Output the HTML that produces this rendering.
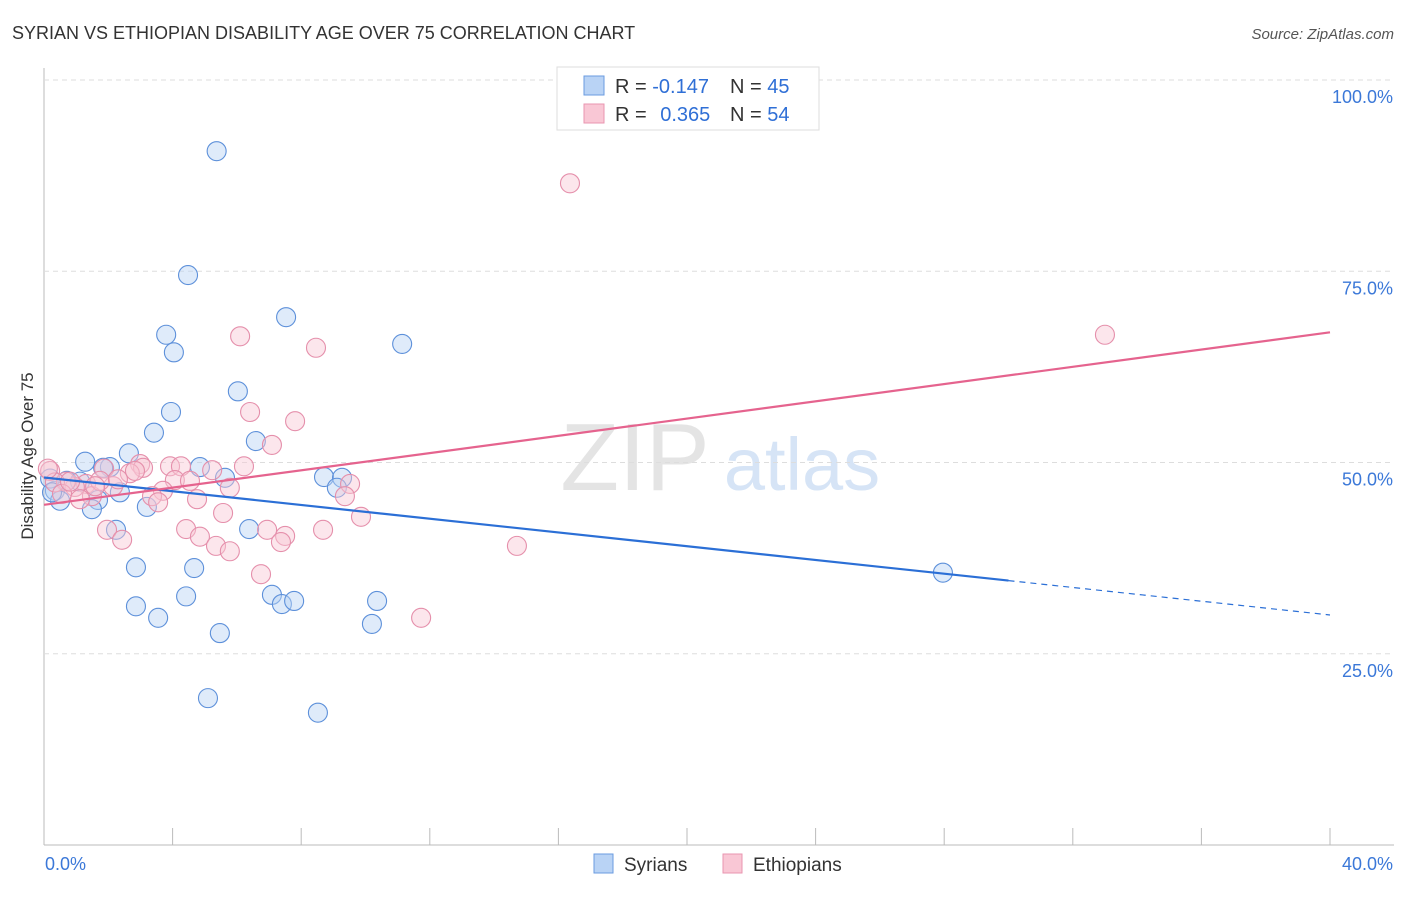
<!DOCTYPE html>
<html><head><meta charset="utf-8"><style>
body{margin:0;background:#fff;font-family:"Liberation Sans",sans-serif}
svg text{font-family:"Liberation Sans",sans-serif}
</style></head><body>
<svg id="c" width="1406" height="892">
<text x="12" y="39" font-size="18" fill="#333">SYRIAN VS ETHIOPIAN DISABILITY AGE OVER 75 CORRELATION CHART</text>
<text x="1394" y="39" font-size="15" fill="#555" font-style="italic" text-anchor="end">Source: ZipAtlas.com</text>
<text transform="translate(33,456) rotate(-90)" font-size="17" fill="#333" text-anchor="middle">Disability Age Over 75</text>
<g><text x="635" y="490" font-size="96" font-family="Liberation Serif" fill="#e4e4e4" text-anchor="middle">ZIP</text><text x="802" y="490" font-size="74" fill="#d6e4f6" text-anchor="middle">atlas</text></g>
<g id="grid"></g><g id="marks"></g>
<g>
<rect x="557" y="67" width="262" height="63" fill="#fff" stroke="#ddd"/>
<rect x="584" y="76" width="20" height="19" fill="#b9d3f5" stroke="#6a9be0"/>
<rect x="584" y="104" width="20" height="19" fill="#f9c7d5" stroke="#e996b0"/>
<text x="615" y="93" font-size="20" fill="#333">R = <tspan fill="#2f6fd6">-0.147</tspan></text>
<text x="730" y="93" font-size="20" fill="#333">N = <tspan fill="#2f6fd6">45</tspan></text>
<text x="615" y="121" font-size="20" fill="#333">R = <tspan fill="#2f6fd6" dx="8">0.365</tspan></text>
<text x="730" y="121" font-size="20" fill="#333">N = <tspan fill="#2f6fd6">54</tspan></text>
</g>
<g>
<rect x="594" y="854" width="19" height="19" fill="#b9d3f5" stroke="#6a9be0"/>
<text x="624" y="871" font-size="19" fill="#333">Syrians</text>
<rect x="723" y="854" width="19" height="19" fill="#f9c7d5" stroke="#e996b0"/>
<text x="753" y="871" font-size="19" fill="#333">Ethiopians</text>
</g>
</svg>
<script>
// values in percent [x, y]
const syrianX=[5.37,4.48,3.80,4.04,7.53,11.14,6.03,3.95,3.42,6.59,2.64,1.28,2.05,1.84,4.85,5.63,8.71,9.27,9.11,0.71,1.12,0.34,0.50,1.68,1.49,2.36,3.20,2.24,6.38,2.86,4.67,2.86,3.55,4.42,7.09,7.40,7.78,10.36,10.20,5.47,5.10,8.52,27.96,0.19,0.25];
const syrianY=[90.7,74.5,66.7,64.4,69.0,65.5,59.3,56.6,53.9,52.8,51.2,50.1,49.4,49.3,49.4,48.0,48.1,48.0,46.7,47.6,47.5,46.3,45.0,45.1,43.9,46.1,44.2,41.2,41.3,36.3,36.2,31.2,29.7,32.5,32.7,31.5,31.9,31.9,28.9,27.7,19.2,17.3,35.6,47.9,46.1];
const ethX=[16.36,33.00,6.10,8.46,6.41,7.81,7.09,6.22,2.99,3.08,3.92,4.26,5.23,1.87,2.67,4.07,4.54,5.78,9.52,9.36,3.70,3.36,3.55,4.76,1.31,0.96,0.68,0.19,0.34,2.15,1.49,5.57,9.86,4.42,1.96,2.43,4.85,5.35,5.78,6.94,7.50,7.37,8.68,14.71,6.75,11.73,0.12,0.56,1.12,1.74,2.30,2.83,1.59,0.81];
const ethY=[86.5,66.7,66.5,65.0,56.6,55.4,52.3,49.5,49.8,49.3,49.5,49.5,49.0,49.2,48.6,47.7,47.6,46.7,47.2,45.6,46.3,45.6,44.8,45.2,47.2,46.8,47.5,48.9,47.4,46.9,45.6,43.4,42.9,41.3,41.2,39.9,40.3,39.1,38.4,41.2,40.4,39.6,41.2,39.1,35.4,29.7,49.2,45.9,45.2,47.6,47.8,48.9,46.9,47.5];
const xTicks=[0,40], yTicks=[25,50,75,100];
const NS='http://www.w3.org/2000/svg';
const X0=44,X1=1330,Y0=845,Y100=80;
const sx=v=>X0+(X1-X0)*v/40, sy=v=>Y0-(Y0-Y100)*v/100;
const grid=document.getElementById('grid'), marks=document.getElementById('marks');
function mk(tag,attrs,parent){const e=document.createElementNS(NS,tag);for(const k in attrs)e.setAttribute(k,attrs[k]);parent.appendChild(e);return e;}
mk('line',{x1:44,y1:68,x2:44,y2:845,stroke:'#bbb'},grid);
mk('line',{x1:44,y1:845,x2:1394,y2:845,stroke:'#bbb'},grid);
for(let i=0;i<=10;i++){mk('line',{x1:sx(i*4),x2:sx(i*4),y1:828,y2:845,stroke:'#bbb'},grid);}
yTicks.forEach(v=>{
 const l=mk('line',{x1:44,x2:1394,y1:sy(v),y2:sy(v),stroke:'#ddd','stroke-dasharray':'5,4'},grid);
 
 
 const t=mk('text',{x:1393,y:sy(v)+23,'font-size':18,fill:'#3b78d8','text-anchor':'end'},grid);
 t.textContent=v.toFixed(1)+'%';
 
 
});
xTicks.forEach((v,i)=>{
 const t=mk('text',{x:i?1393:45,y:870,'font-size':18,fill:'#3b78d8','text-anchor':i?'end':'start'},grid);
 t.textContent=v.toFixed(1)+'%';
 
 
});
function pts(xs,ys,fill,stroke,name){xs.forEach((x,i)=>{
 const c=mk('circle',{cx:sx(x),cy:sy(ys[i]),r:9.5,fill:fill,'fill-opacity':0.45,stroke:stroke,'stroke-width':1.1},marks);
 
 
});}
pts(syrianX,syrianY,'#b9d3f5','#5d90da','syrian-point');
pts(ethX,ethY,'#f9c7d5','#e58fab','ethiopian-point');
function reg(xs,ys){const n=xs.length;let mx=0,my=0;xs.forEach((x,i)=>{mx+=x;my+=ys[i]});mx/=n;my/=n;let a=0,b=0;xs.forEach((x,i)=>{a+=(x-mx)*(ys[i]-my);b+=(x-mx)*(x-mx)});const m=a/b;return [m,my-m*mx];}
const [mb,bb]=reg(syrianX,syrianY);
let l=mk('line',{x1:sx(0),y1:sy(bb),x2:sx(30),y2:sy(bb+mb*30),stroke:'#2b6fd6','stroke-width':2.2},marks);


l=mk('line',{x1:sx(30),y1:sy(bb+mb*30),x2:sx(40),y2:sy(bb+mb*40),stroke:'#2b6fd6','stroke-width':1.2,'stroke-dasharray':'6,5'},marks);


const [mp,bp]=reg(ethX,ethY);
l=mk('line',{x1:sx(0),y1:sy(bp),x2:sx(40),y2:sy(bp+mp*40),stroke:'#e5638e','stroke-width':2.2},marks);


</script>
</body></html>
